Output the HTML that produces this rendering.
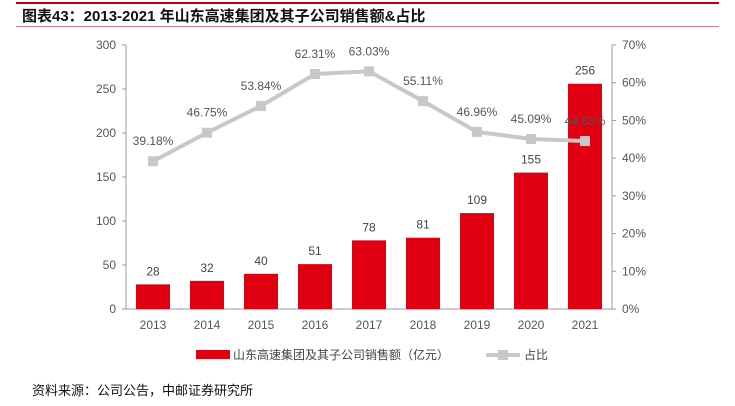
<!DOCTYPE html>
<html><head><meta charset="utf-8"><style>
body{margin:0;background:#fff;width:735px;height:401px;overflow:hidden;font-family:"Liberation Sans","Noto Sans CJK SC",sans-serif}
</style></head><body>
<svg width="735" height="401" font-family="Liberation Sans, Noto Sans CJK SC, sans-serif">
<rect x="16" y="2" width="703" height="2" fill="#c00000"/>
<text x="22" y="21" font-size="15" font-weight="bold" fill="#111">图表43：2013-2021 年山东高速集团及其子公司销售额&amp;占比</text>
<rect x="16" y="26" width="703" height="1" fill="#e08080"/>
<g id="plot"></g>
<text x="32" y="395" font-size="13" fill="#111">资料来源：公司公告，中邮证券研究所</text>
</svg>
<script>
const categories=["2013","2014","2015","2016","2017","2018","2019","2020","2021"];
const sales=[28,32,40,51,78,81,109,155,256];
const ratio=[39.18,46.75,53.84,62.31,63.03,55.11,46.96,45.09,44.53];
const leftTicks=[0,50,100,150,200,250,300];
const rightTicks=[0,10,20,30,40,50,60,70];
const NS="http://www.w3.org/2000/svg";
const g=document.getElementById('plot');
const X0=126,X1=612,Y0=309,Y1=45;
const step=(X1-X0)/categories.length;
const xc=i=>X0+step*(i+0.5);
const yL=v=>Y0-v/300*(Y0-Y1);
const yR=v=>Y0-v/70*(Y0-Y1);
function el(t,a,txt){const e=document.createElementNS(NS,t);for(const k in a)e.setAttribute(k,a[k]);if(txt!==undefined)e.textContent=txt;g.appendChild(e);return e;}
let e;
e=el('line',{x1:X0,y1:Y1,x2:X0,y2:Y0,stroke:'#999'});


e=el('line',{x1:X1,y1:Y1,x2:X1,y2:Y0,stroke:'#999'});


e=el('line',{x1:X0,y1:Y0,x2:X1,y2:Y0,stroke:'#999'});


leftTicks.forEach(v=>{
 el('line',{x1:X0-4,y1:yL(v),x2:X0,y2:yL(v),stroke:'#999'});
 e=el('text',{x:X0-10,y:yL(v)+4,'font-size':12,fill:'#555','text-anchor':'end'},String(v));
 
 
});
rightTicks.forEach(v=>{
 el('line',{x1:X1,y1:yR(v),x2:X1+4,y2:yR(v),stroke:'#999'});
 e=el('text',{x:X1+10,y:yR(v)+4,'font-size':12,fill:'#555'},v+'%');
 
 
});
categories.forEach((c,i)=>{
 e=el('text',{x:xc(i),y:Y0+20,'font-size':12,fill:'#555','text-anchor':'middle'},c);
 
 
});
sales.forEach((v,i)=>{
 e=el('rect',{x:xc(i)-17,y:yL(v),width:34,height:Y0-yL(v),fill:'#e00012'});
 
 
 e=el('text',{x:xc(i),y:yL(v)-9,'font-size':12,fill:'#444','text-anchor':'middle'},String(v));
 
 
});
e=el('polyline',{points:ratio.map((v,i)=>xc(i)+','+yR(v)).join(' '),fill:'none',stroke:'#c8c8c8','stroke-width':4});


ratio.forEach((v,i)=>{
 e=el('rect',{x:xc(i)-5,y:yR(v)-5,width:10,height:10,fill:'#c8c8c8'});
 
 
 e=el('text',{x:xc(i),y:yR(v)-16,'font-size':12,fill:'#555','text-anchor':'middle'},v.toFixed(2)+'%');
 
 
});
e=el('rect',{x:196,y:350,width:34,height:9,fill:'#e00012'});


e=el('text',{x:233,y:359,'font-size':12,fill:'#444'},'山东高速集团及其子公司销售额（亿元）');


e=el('line',{x1:486,y1:355,x2:520,y2:355,stroke:'#c8c8c8','stroke-width':4});


el('rect',{x:498,y:350,width:10,height:10,fill:'#c8c8c8'});
e=el('text',{x:524,y:359,'font-size':12,fill:'#444'},'占比');


</script>
</body></html>
